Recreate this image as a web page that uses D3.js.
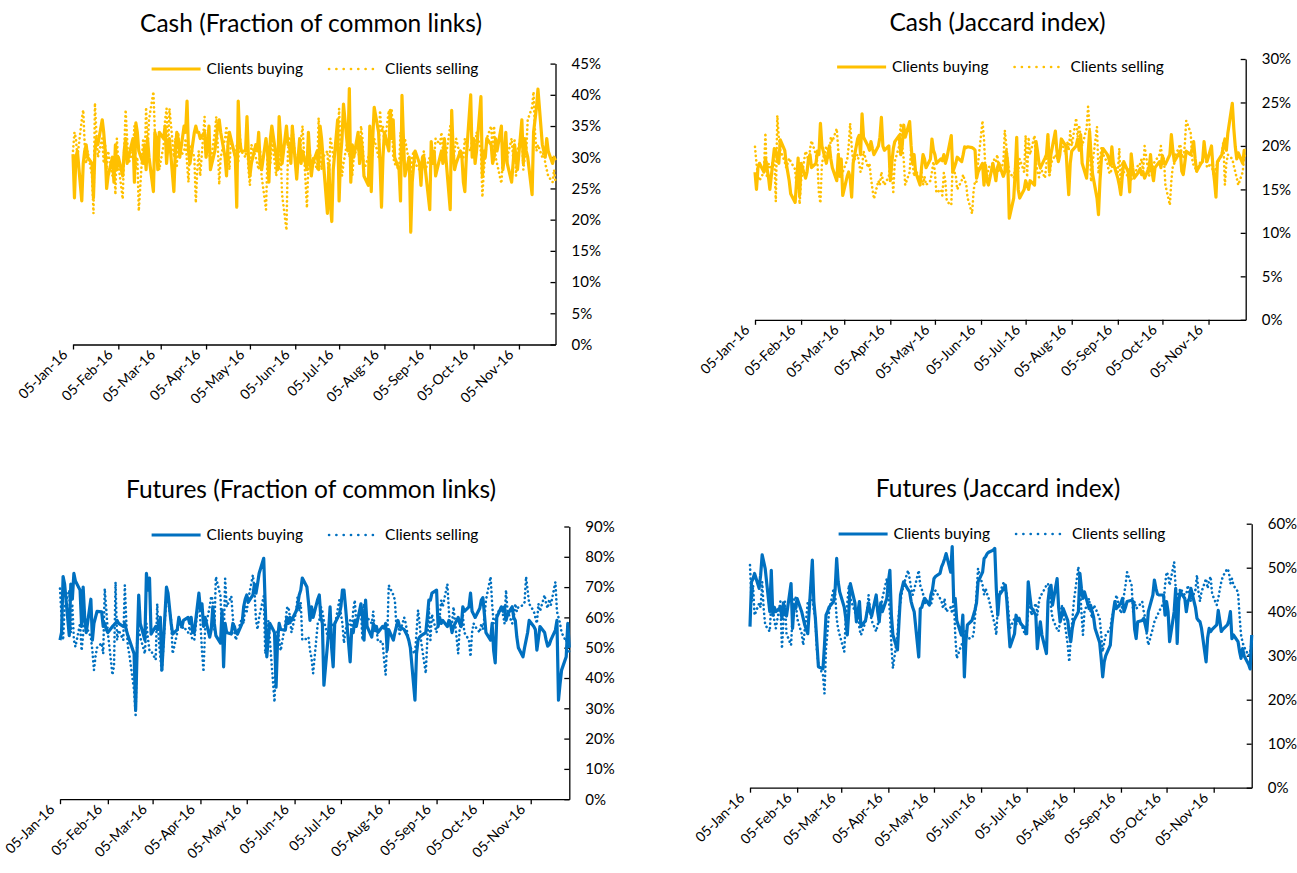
<!DOCTYPE html>
<html><head><meta charset="utf-8">
<script src="https://cdn.jsdelivr.net/npm/d3@7"></script>
<style>
body{margin:0;background:#fff;}
svg{display:block;}
text{font-family:Lato,"Open Sans",sans-serif;fill:#000;}
</style>
</head><body>
<svg id="chart" width="1297" height="873"></svg>
<script>
// ---------- data ----------
const startDate = "2016-01-05";
const endDate = "2016-11-30";
const tickDates = ["2016-01-05","2016-02-05","2016-03-05","2016-04-05","2016-05-05","2016-06-05",
                   "2016-07-05","2016-08-05","2016-09-05","2016-10-05","2016-11-05"];
const seriesNames = ["Clients buying", "Clients selling"];
const panelTitles = ["Cash (Fraction of common links)", "Cash (Jaccard index)",
                     "Futures (Fraction of common links)", "Futures (Jaccard index)"];
const yTicksCashFrac = [0,5,10,15,20,25,30,35,40,45];
const yTicksCashJac  = [0,5,10,15,20,25,30];
const yTicksFutFrac  = [0,10,20,30,40,50,60,70,80,90];
const yTicksFutJac   = [0,10,20,30,40,50,60];

// values in %, one per trading day (rows = months Jan..Nov)
const cashFracBuy = [
30.5,23.5,30,31,23,29,31,32,30,29,23.5,31,33,32,36,34,31,25,27,
30,26,32,28,30,27,31,33,29,30,33,26,35.5,34,31,29,32,28,33,30,24.5,
34,33,28,34,33,35,29,32,33,24.5,31,34,33,30,35,34,39,31,29,34,35,34,34,
33,34,30,32,35,28,31,33,35,36,34,30,27,32,34,33,30,22,39,33,31,
31,36.5,30,27,29,32,31,34,29,28,33,31,26,33,35,30,28,36.5,33,29,35,32,
32,29,35,26.5,30,33,29,31,28,34,30,27,29,31,28,35,33,30,21,29,22.5,19.7,
28,36,23,30,33,38.5,31,41,26,32,30,34,29,33,31,27,25.5,35,24.5,33,38,
34,29,22,30,34,31,37.5,33,36,30,28,23,39.9,33,27,30,18,26,28.8,31,29,25.5,30,
30,28,21.6,32.5,29,31,27,30,31,29,33,30,21.6,37.5,31,28,29,31,30,26,24.5,30,
40,30,33,29,31,39.7,27,31,30,33,32,29,30,33,31,35,28,30,34,29,26,
29,32,30,28,36,29,33,31,30,24,34,36,38,40.9,32,31,30,33,31,29,30,29.5];
const cashFracSell = [
31,34,33,30,36,37.6,32,29,31,27,21,38.7,34,30,33,29,32,28,31,
27,30,24,33,29,23.3,31,37.6,33,29,31,35,28,30,21.4,33,29,38,31,36,40.5,
34,30,33,28,32,36,37.8,31,37.8,30,33,28.6,34,30,31,33,29,26,32,30,22.7,28,31,
27,36.5,30,33,31,29,34,36.5,32,25.6,30,33,35,31,28,33,30,32,29,34,31,
30,33,28,25.5,32,30,29,28,31,27,21.6,30,31,29,33,27,30,28,31,24,18.3,31,
33,30,35,27,31,30,33,35,21.9,29,31,27,30,28,36.3,32,28,30,31,26,33,32,
30,32,37.8,31,27,29,33,30,31,27,30,32,29,35,33,28,30,31,29,31,33,
30,37.5,34,35,32,37.5,33,37.8,30,29,28,34,31,30,33,29,27,30,31,29,28,27,30,
31,28,30,29,31,30,33,32,34,31,29,30,35,32,29,31,33,30,31,30,33,32,
31,33,30,32,34,31,23.6,28,30,33,35,31,35,30,29,25.8,30,32,31,30,33,
30,33,27,31,34,28,30,31,36,38,40.5,34,31,32,30,31,29,28,27,26,28,26];
const cashJacBuy = [
17,15,17.5,18,17,18.6,17.5,16.5,15,19.7,19.5,18.5,18,20.7,19.5,18,17,16,14.5,
13.5,16,18.6,14.3,18,16.3,17,18.6,19,17.5,18,19.4,19,22.6,20,18,19,20,18.5,17.5,16,
19,16.5,18.5,14.3,16.5,17,16.3,14.1,18,20.8,21.2,19,23.7,21,20,19.5,20.5,19.7,19,20,21,23.3,20,
19.5,20,16,18,19.7,20.5,21.2,19,20,22.4,21,22.8,20,18,19,17,15.5,17.5,19,18.5,17.5,
18.5,20.8,19.5,19,18,18.5,18.3,19,18,18.6,21.2,17,17.5,18,18.7,18.2,19,19.9,19.8,19.9,19.8,19.7,
19.5,16.3,17,18,15.5,17.8,16,15.5,18,17,16,17.5,18,16.5,17,19.4,18,11.7,14,17,21,15,
14,15,16,15.5,15,16,15.5,20.5,19.4,18,17.5,18.6,19,21.3,17,19,21.7,19.5,18.2,19,20.8,
20,17,14.4,18,19.4,20,20.8,19.5,21.3,18,16.3,19,21.7,19,16.8,14,12.1,16,18.6,19.7,19,18.5,17.8,
19.9,18,16.3,15.5,14.4,16.5,18.2,17,14.7,19.1,17.5,16.3,17,17.4,16.7,17,16.3,17.5,19,17,16,17.5,
18.2,17.5,18.9,18,17.9,19,21.3,19.5,18.2,18.5,19.4,17.1,16.7,18,19.4,19,19.7,20.5,18.5,17.1,18,
18.2,20.5,19,18.2,20,17.5,16,14.1,18.2,19,20,20.8,19.5,21.5,24.9,22,19.9,18.5,19.2,18,19.5,19.5];
const cashJacSell = [
19.9,18,16.5,16,17,21.5,16.3,18,17.5,18.4,13.6,23.5,21,19.5,18.2,17.5,18,18.6,18.2,
17.3,15,17,13.3,16,19.4,19,18,19.6,20.6,19,18,14.5,13.4,18,20,19,18.5,21,20.5,22,
19.5,17.5,16.3,17,18.4,20,22.6,20,18.2,19,18,17,17.5,19.4,17.5,18,16.3,15,13.9,16,15.5,17,16,
15.5,16.5,18.2,17,14.7,18.2,20,22.6,20,18.5,15.5,17,19.7,18,16.5,17.3,16,17,15.5,16.5,15.5,
16,17,18.2,17,14.6,15,14.3,16.9,16,13.6,13.2,18.2,17,16.7,15,16,16.7,16,15.7,14,12.2,14.8,
16,15.9,18,22.9,20.8,17,16.3,17.5,18,18.5,18.2,19,17,18,21.8,20.1,18,17,16.3,17.5,18,17,
18.5,17,21.2,16.4,21,19,21.2,18,17,16.4,17.5,16.3,18,21.2,16.4,18,19,18.5,18.9,19.5,20.5,
19,20.5,19.5,21.7,20,23.2,21,22.4,21,20,22,24.5,22.4,15.9,18,22.2,16.8,18.5,19.8,19.1,18,17,16.8,
17.5,18,17,19.7,14.7,18.2,17,16.5,17.5,15.9,17,16.5,18,17.9,18.5,17,20,16.5,17.5,17,18,18.2,
19,20,18,18.6,15.5,13.2,16,17.7,18,19,20.2,19,18.6,20,22.9,21.5,18.5,17.7,17.5,17,18.4,
18.4,19,18.8,17.5,18,17,16.3,17.5,18,19.1,20.5,15.5,18,19,18.5,17.7,17,16.3,15.5,17,18.8,19];
const futFracBuy = [
52.5,55,73.5,71,54,71,66,74.5,72,69,57,70,60,55,66,52.5,58,60,62,
61.8,57,58,56,55,57,57.5,58,59,58,57,58,55.8,54,52.5,48,29.4,50,67.4,58,52.5,
74.5,69,73,54.5,57,56,58,60,42.6,70,68,63,58,54.5,56,60,58,57,59,60,58,60,55,
55,68,62.4,64.5,57,60,53.5,56,63.5,58,54,51.5,62.5,43.7,58,55,54.5,58,57,55,54.5,
58,63.5,66,67.4,65,67.4,71,68,71,74.5,79.5,63.5,47,53.5,58,55,37,52.5,58,56,55.8,60,
58,60,59,62,64,67.4,69,73,70,65,59,63.5,60,66,67.4,60,58,37.6,55,63.5,50,43.7,
58,61,63.5,69,69,63.5,45.3,55.8,55,59,57,64.5,60,52.5,65.7,57,53.5,58,56.5,57,55,
57,56.5,58,49.2,56,52.5,55,57,59,57,56,55,54,52.5,50,32.7,48,52.5,53.5,54,55,60,65.7,
65.7,68,69,57,60,58,59,57,59,58,55,57,60,58,57,63.5,62,63.5,68,62,61,60,
63,65.7,66.5,61,55,52.5,58,49,45,60,63.5,62,63.5,59,61,63.5,60,59,53.5,50,47,
50,52.5,55,59,57,56,49.2,53,57,55,52.5,50.5,51,52.5,55.8,59,32.7,38,42.6,47,58,50];
const futFracSell = [
69.5,60,52.5,63.5,69,55,64.5,52.5,50.3,58,49,54.5,60,57,53.5,49,42.6,47,50,
51.5,48,69.5,62.5,55,41,44,71.7,52.5,55.8,52.5,70.6,58,50.3,47.5,36,27.8,52.5,55.8,53.5,48,
58,53,49,49,46,64.5,52.5,47,42,68,65.7,62,59,48,55,60,58,56,57,55,57,54,52.5,
52.5,67,58,49,42,56,63.5,67,65.7,56,73.4,67,53.5,51.5,72.8,63.5,67,60,55,52.5,55,
60,58,63.5,62,66,74,69,59,56,60,67,48,52.5,59,52.5,32,52.5,56,52.5,49,58,63,
63.5,60,55,62,67,62,65,52.5,53,53.5,49,46.5,41.5,58,59,63.5,62,59,52.5,55,57,58,
57,65.7,61,58,51.5,56,59,54.5,62.4,65.7,58,62.4,52.5,64.5,56.5,60,58,62,55,57,52,
52,46,41,52.5,70.6,67.4,65.7,56.5,58,54.5,60,58,55,52.5,50,48,55,62.4,58,52,41.5,52.5,63,
52.5,61,55,58,60,65.7,63.5,71,62,56.5,58,63.5,48,56.5,58,61,55,52.5,47,55,58,57,
55,58,56,60,65.7,73.4,64.5,58,59,61,63.5,61,58,69,62,58,60,64.5,62,63.5,64,
65,73.4,69,64.5,62,60,58,64.5,62,67.4,64.5,63,66,64,71.7,62,60,58,55,52,55,48];
const futJacBuy = [
36.6,46.8,47.5,48.7,45.3,48.3,52.9,51.4,49.8,40,49.4,39.2,41,40,41,38.5,42,40,39,
46.4,36.2,41.5,40.7,43,40,38.5,37,36,35,51.7,42.3,38.5,33,27.5,27,32.4,39.2,40,41,42.3,
45,52.1,46.8,44.5,41,38.5,34.7,40,46.4,42,37.7,40,42.3,36.6,38,40,42,40,39,43.8,40,37.7,42,
40,43,46.8,49.4,39.2,34.7,31.3,37.7,43.8,45.3,46.8,45,44.5,42.3,41,40,29.7,40.7,41,42.3,43,
41.5,43.8,45,47.5,48,48.7,50.2,51,52,53.2,49,54.8,42.3,43,38,34.7,39.2,25.2,33.2,37,38,39.2,
40.4,42,46.8,49,52.1,52.5,53.2,53.5,54,54.4,45.3,39.2,43.8,45.3,46,42.3,37,32,35,39.2,38,38.5,
37.3,36.2,35,46.8,43.8,41,39.2,31.6,35,37.7,34.7,30.5,42.3,45.3,46,41.5,47.5,41,37.7,39,40.7,
38,35,33.2,36.2,38,40,48.7,45.3,43,44.5,40.7,41.5,40,38.8,36.2,33,29.4,25.2,28.6,30,32.4,37,40,
42.3,40.7,42,43,40,41,42.3,42.6,42.3,36,33.9,37.7,38,38.5,37,35.5,40,43.8,47.2,45.3,44,43.8,
43.8,39.2,42.3,40,33.2,40,45.3,32.8,42.3,44.5,43,40,42.3,43,45.3,41,38.5,38,37.7,36.2,28.6,
34,36.2,35.5,36,37,40.3,38,35.5,36,37,38,40,33.9,34.7,33.2,31,29.4,31.6,30,28,27,34.7];
const futJacSell = [
50.6,42.3,46,39.2,41.9,41,46.8,40.7,37,35.5,42.3,40.7,38,36.2,42.3,31.6,38,42.3,35,
32.4,39.2,43,43.4,38.5,35,32.4,36,38.5,42.3,43,40.4,38.5,31.3,28,25.6,21.4,31.6,35.5,40,45.3,
44,38.5,36,34.7,30.9,38.5,42,46,43,40,38.5,40.4,36,34.7,37.7,40,43.8,40,38,35.5,37,38.5,40,
43,47.5,43.8,40,32.4,27.1,34.7,40,42.3,44.5,46,49.4,47.5,45.3,43.8,45,49.4,46,45,43.8,42,
42,41.5,43,44.5,44.8,43,42.3,40.7,43,40,41,39.6,43.8,34.7,29.4,32.4,33,34.7,36,33.9,34,34.7,
38.8,44,49.8,46,43.8,45.3,44,43,38.5,37,34.7,41.5,44,46.8,45.3,43.8,40,36.2,38.5,37,38,37.7,
37.7,34.7,36,40,43,39.2,41.9,39.2,42,43.8,44,46,46.4,44.2,41,38.5,36,35.5,38,41.5,40,
32.4,28.6,33.9,38,42.3,50.2,46,40,34.7,40,43,40,38.5,41.5,41,38.5,35,30.9,33,34.7,36.2,38.5,40,
41.5,43.8,39.6,41.5,43.8,46,49,46,40,42.3,40.7,41,42.3,40,38.5,34.7,32.4,36.2,37.7,38.5,39.2,40,
42,46,49,48.3,46,51.3,45.3,43,44,45.3,43.8,44,46,44,42.3,45,48.3,44.5,42.3,44.5,47.5,
45.3,47,48,44,41.5,43,45,46.8,48,49.8,49,46.4,47.5,46,44.5,39.2,34.7,33,32,30,31,33];

// ---------- layout ----------
const CASH = "#FFC000", FUT = "#0070C0";
const panels = [
  {title: panelTitles[0], buy: cashFracBuy, sell: cashFracSell, color: CASH, ticks: yTicksCashFrac,
   x0: 73, x1: 555.5, yb: 344.5, yt: 63.6, tx: 311, ty: 32, ly: 69, lcx: 315},
  {title: panelTitles[1], buy: cashJacBuy, sell: cashJacSell, color: CASH, ticks: yTicksCashJac,
   x0: 755, x1: 1245.7, yb: 319.8, yt: 59, tx: 997.5, ty: 31, ly: 67, lcx: 1000.5},
  {title: panelTitles[2], buy: futFracBuy, sell: futFracSell, color: FUT, ticks: yTicksFutFrac,
   x0: 60, x1: 569.3, yb: 799.2, yt: 526.5, tx: 311, ty: 498, ly: 535, lcx: 315},
  {title: panelTitles[3], buy: futJacBuy, sell: futJacSell, color: FUT, ticks: yTicksFutJac,
   x0: 750, x1: 1251.7, yb: 787.7, yt: 523.7, tx: 998, ty: 497, ly: 534, lcx: 1002}
];

const parse = d3.utcParse("%Y-%m-%d");
const d0 = parse(startDate), d1 = parse(endDate);
const days = d3.utcDay.range(d0, d3.utcDay.offset(d1, 1)).filter(d => d.getUTCDay() % 6 !== 0);
const ticks = tickDates.map(parse);
const fmt = d3.utcFormat("%d-%b-%y");

const svg = d3.select("#chart");

panels.forEach(p => {
  const x = d3.scaleUtc().domain([d0, d1]).range([p.x0, p.x1]);
  const yMax = p.ticks[p.ticks.length - 1];
  const y = d3.scaleLinear().domain([0, yMax]).range([p.yb, p.yt]);
  const g = svg.append("g");

  // x axis
  const xa = g.append("g").attr("transform", `translate(0,${p.yb})`)
    .call(d3.axisBottom(x).tickValues(ticks).tickSize(5).tickSizeOuter(0).tickFormat(fmt));
  xa.select(".domain").attr("stroke", "#000").attr("stroke-width", 1.3);
  xa.selectAll(".tick line").attr("stroke", "#000").attr("stroke-width", 1.3);
  xa.selectAll(".tick text")
    .attr("font-size", 14).attr("font-family", "Lato")
    .attr("text-anchor", "end").attr("dy", 0).attr("y", 0)
    .attr("transform", "translate(-5,11) rotate(-45)");

  // y axis (right)
  const ya = g.append("g").attr("transform", `translate(${p.x1},0)`)
    .call(d3.axisRight(y).tickValues(p.ticks).tickSize(-5).tickSizeOuter(0).tickFormat(d => d + "%"));
  ya.select(".domain").attr("stroke", "#000").attr("stroke-width", 1.3);
  ya.selectAll(".tick line").attr("stroke", "#000").attr("stroke-width", 1.3);
  ya.selectAll(".tick text").attr("font-size", 15).attr("font-family", "Lato")
    .attr("x", 16).attr("text-anchor", "start");

  // lines
  const n = Math.min(days.length, p.buy.length, p.sell.length);
  const line = d3.line().x((d, i) => x(days[i])).y(d => y(d));
  g.append("path").datum(p.sell.slice(0, n))
    .attr("fill", "none").attr("stroke", p.color).attr("stroke-width", 2.6)
    .attr("stroke-linecap", "round").attr("stroke-linejoin", "round")
    .attr("stroke-dasharray", "0.1 4.4").attr("d", line);
  g.append("path").datum(p.buy.slice(0, n))
    .attr("fill", "none").attr("stroke", p.color).attr("stroke-width", 3.2)
    .attr("stroke-linejoin", "round").attr("d", line);

  // title
  g.append("text").attr("x", p.tx).attr("y", p.ty).attr("text-anchor", "middle")
    .attr("font-size", 24.5).text(p.title);

  // legend
  const lg = g.append("g");
  const t1 = lg.append("text").attr("font-size", 15.5).attr("y", p.ly + 5).text(seriesNames[0]);
  const t2 = lg.append("text").attr("font-size", 15.5).attr("y", p.ly + 5).text(seriesNames[1]);
  const w1 = t1.node().getComputedTextLength(), w2 = t2.node().getComputedTextLength();
  const total = 49 + 6 + w1 + 26 + 44 + 12 + w2;
  let cx = p.lcx - total / 2;
  lg.append("line").attr("x1", cx).attr("x2", cx + 49).attr("y1", p.ly).attr("y2", p.ly)
    .attr("stroke", p.color).attr("stroke-width", 3.2);
  t1.attr("x", cx + 55);
  const dx = cx + 55 + w1 + 26;
  lg.append("line").attr("x1", dx).attr("x2", dx + 44).attr("y1", p.ly).attr("y2", p.ly)
    .attr("stroke", p.color).attr("stroke-width", 2.6).attr("stroke-linecap", "round")
    .attr("stroke-dasharray", "0.1 7.2");
  t2.attr("x", dx + 56);
});
</script>
</body></html>
